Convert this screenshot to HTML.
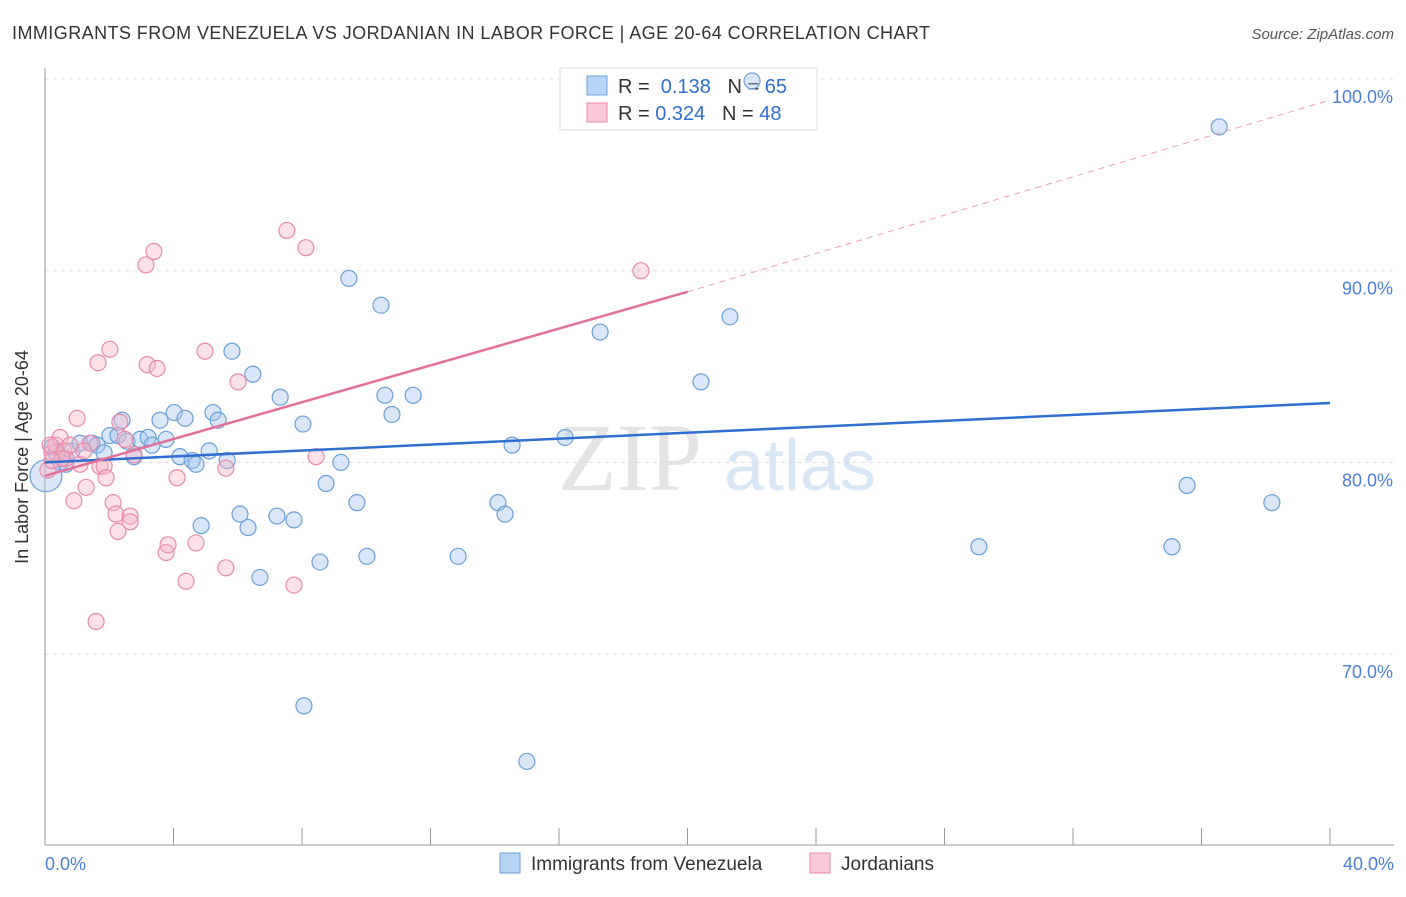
<!DOCTYPE html>
<html><head><meta charset="utf-8"><style>
body{margin:0;background:#fff;width:1406px;height:892px;overflow:hidden;font-family:"Liberation Sans",sans-serif}
</style></head><body>
<svg width="1406" height="892">
<text x="12" y="39" font-size="18" fill="#333" textLength="918">IMMIGRANTS FROM VENEZUELA VS JORDANIAN IN LABOR FORCE | AGE 20-64 CORRELATION CHART</text>
<text x="1394" y="39" font-size="15" fill="#555" font-style="italic" text-anchor="end">Source: ZipAtlas.com</text>
<text x="630" y="490" font-size="96" fill="#e4e4e4" text-anchor="middle" font-family="Liberation Serif,serif">ZIP</text>
<text x="800" y="490" font-size="72" fill="#d8e6f6" text-anchor="middle">atlas</text>
<g id="grid"></g>
<line x1="45" y1="68" x2="45" y2="845" stroke="#999"/>
<line x1="45" y1="845" x2="1394" y2="845" stroke="#999"/>
<g id="xt"></g>
<text x="28" y="457" font-size="18" fill="#333" text-anchor="middle" transform="rotate(-90 28 457)">In Labor Force | Age 20-64</text>
<text x="45" y="870" font-size="18" fill="#4a7fd6">0.0%</text>
<text x="1394" y="870" font-size="18" fill="#4a7fd6" text-anchor="end">40.0%</text>
<g>
<rect x="560" y="68" width="257" height="62" fill="#fff" stroke="#ddd"/>
<rect x="587" y="76" width="20" height="19" fill="#b8d4f5" stroke="#6b9fd8"/>
<text x="618" y="93" font-size="20" fill="#333">R = <tspan fill="#2f6fd0">&#160;0.138</tspan>&#160;&#160;&#160;N = <tspan fill="#2f6fd0">65</tspan></text>
<rect x="587" y="103" width="20" height="19" fill="#f9c9d7" stroke="#e88aab"/>
<text x="618" y="120" font-size="20" fill="#333">R = <tspan fill="#2f6fd0">0.324</tspan>&#160;&#160;&#160;N = <tspan fill="#2f6fd0">48</tspan></text>
</g>
<g id="pts"></g>
<g id="lines"></g>
<g>
<rect x="500" y="853" width="20" height="20" fill="#b8d4f5" stroke="#6b9fd8"/>
<text x="531" y="870" font-size="19" fill="#333">Immigrants from Venezuela</text>
<rect x="810" y="853" width="20" height="20" fill="#f9c9d7" stroke="#e88aab"/>
<text x="841" y="870" font-size="19" fill="#333">Jordanians</text>
</g>
</svg>
<script>
const yTicks=[100,90,80,70];
const blueX=[0.22,0.34,0.47,0.65,0.84,1.09,1.46,1.62,1.84,2.02,2.27,2.40,2.55,2.77,2.96,3.21,3.33,3.58,3.77,4.02,4.20,4.36,4.58,4.70,5.11,5.23,5.39,5.67,5.82,6.07,6.32,6.47,4.86,6.69,7.22,7.32,7.75,8.03,8.06,8.56,8.75,9.21,9.46,9.71,10.02,10.46,10.58,10.80,11.46,12.86,14.10,14.32,14.54,15.00,16.19,17.28,20.42,21.32,22.01,29.07,35.08,35.55,36.55,38.19,0.03];
const blueY=[80.8,80.5,80.0,79.9,80.6,81.0,81.0,80.9,80.5,81.4,81.4,82.2,81.1,80.3,81.2,81.3,80.9,82.2,81.2,82.6,80.3,82.3,80.1,79.9,80.6,82.6,82.2,80.1,85.8,77.3,76.6,84.6,76.7,74.0,77.2,83.4,77.0,82.0,67.3,74.8,78.9,80.0,89.6,77.9,75.1,88.2,83.5,82.5,83.5,75.1,77.9,77.3,80.9,64.4,81.3,86.8,84.2,87.6,99.9,75.6,75.6,78.8,97.5,77.9,79.3];
const pinkX=[0.09,0.22,0.34,0.47,0.59,0.65,0.78,0.90,1.00,1.09,1.28,1.40,1.59,1.65,1.71,1.84,1.90,2.02,2.12,2.21,2.27,2.33,2.49,2.65,2.65,2.77,3.14,3.18,3.39,3.49,3.77,3.83,4.11,4.39,4.70,4.98,5.63,5.63,6.01,7.53,7.75,8.12,8.44,18.55,0.16,0.53,1.21,0.22];
const pinkY=[79.6,80.5,80.9,81.3,80.6,80.2,80.9,78.0,82.3,79.9,78.7,81.0,71.7,85.2,79.8,79.8,79.2,85.9,77.9,77.3,76.4,82.1,81.2,77.2,76.9,80.4,90.3,85.1,91.0,84.9,75.3,75.7,79.2,73.8,75.8,85.8,74.5,79.7,84.2,92.1,73.6,91.2,80.3,90.0,80.9,80.2,80.6,80.1];
const blueLine=[80.0,83.1];
const pinkLine=[79.3,88.9,98.9];
const NS='http://www.w3.org/2000/svg';
const sx=v=>45+v*32.125, sy=v=>79+(100-v)*19.17;
function mk(p,t,a){const e=document.createElementNS(NS,t);for(const k in a)e.setAttribute(k,a[k]);p.appendChild(e);return e;}
const grid=document.getElementById('grid');
yTicks.forEach(t=>{
 const l=mk(grid,'line',{x1:45,x2:1394,y1:sy(t),y2:sy(t),stroke:'#ddd','stroke-dasharray':'4,4'});
 
 
 const tx=mk(grid,'text',{x:1393,y:sy(t)+24,'font-size':18,fill:'#4a7fd6','text-anchor':'end'});
 tx.textContent=t.toFixed(1)+'%';
 
 
});
const xt=document.getElementById('xt');
for(let i=1;i<=10;i++){const l=mk(xt,'line',{x1:sx(i*4),x2:sx(i*4),y1:828,y2:845,stroke:'#999'});
 
 }
const pts=document.getElementById('pts');
blueX.forEach((x,i)=>{const c=mk(pts,'circle',{cx:sx(x),cy:sy(blueY[i]),r:i==blueX.length-1?16:8,fill:'rgba(160,196,240,0.4)',stroke:'#6b9fd8','stroke-width':1.2});
 
 });
pinkX.forEach((x,i)=>{const c=mk(pts,'circle',{cx:sx(x),cy:sy(pinkY[i]),r:8,fill:'rgba(248,180,200,0.4)',stroke:'#e88aab','stroke-width':1.2});
 
 });
const ln=document.getElementById('lines');
const b=mk(ln,'line',{x1:sx(0),y1:sy(blueLine[0]),x2:sx(40),y2:sy(blueLine[1]),stroke:'#2f6fd0','stroke-width':2.5});


const p=mk(ln,'line',{x1:sx(0),y1:sy(pinkLine[0]),x2:sx(20),y2:sy(pinkLine[1]),stroke:'#e2709a','stroke-width':2.5});


const pd=mk(ln,'line',{x1:sx(20),y1:sy(pinkLine[1]),x2:sx(40),y2:sy(pinkLine[2]),stroke:'#e9a0b8','stroke-width':1,'stroke-dasharray':'6,5'});


</script>
</body></html>
